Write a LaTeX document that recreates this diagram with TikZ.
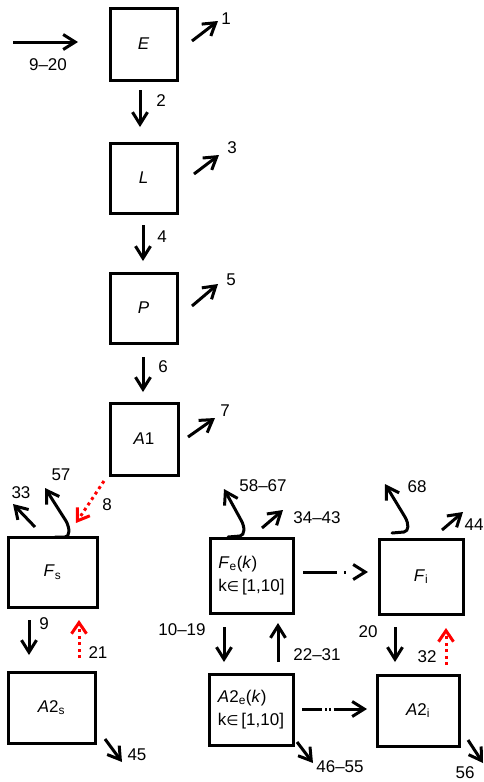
\documentclass[tikz,border=0pt]{standalone}
\usepackage{fontspec}
\setmainfont{Liberation Sans}
\newfontfamily\dejavu{DejaVu Sans}
\usetikzlibrary{arrows.meta}
\newcommand{\elemsym}{{\dejavu\fontsize{14}{14}\selectfont ∈}}
\begin{document}
\begin{tikzpicture}[x=1pt,y=-1pt,
  txt/.style={font=\fontsize{17}{23}\selectfont,inner sep=0pt},
  box/.style={draw,line width=3pt,inner sep=0pt,font=\fontsize{17}{23}\selectfont},
  flow/.style={line width=3pt,-{Straight Barb[length=12pt,width=15pt]}},
  curv/.style={line width=3pt,line cap=round,-{Straight Barb[length=12pt,width=15pt]}},
  reddot/.style={red,line width=3pt,dash pattern=on 3pt off 3.5pt,-{Straight Barb[length=11pt,width=15pt]}},
  dashdot/.style={line width=3pt,dash pattern=on 34pt off 7pt on 2pt off 40pt,-{Straight Barb[length=12pt,width=15pt]}},
  dashdotdot/.style={line width=3pt,dash pattern=on 20pt off 3pt on 1.5pt off 2.5pt on 1.5pt off 3pt on 30pt off 10pt,-{Straight Barb[length=12pt,width=15pt]}}
]
\useasboundingbox (0,0) rectangle (484,782);
% boxes
\node[box,minimum width=67pt,minimum height=72pt] (E) at (143.5,44) {\textit{E}};
\node[box,minimum width=67pt,minimum height=70pt] (L) at (143.5,178) {\textit{L}};
\node[box,minimum width=67pt,minimum height=70pt] (P) at (143.5,308) {\textit{P}};
\node[box,minimum width=68pt,minimum height=72pt] (A1) at (144,439) {\textit{A}1};
\node[box,minimum width=89pt,minimum height=70pt] (Fs) at (52.5,572) {\textit{F}\textsubscript{s}};
\node[box,minimum width=87pt,minimum height=71pt] (A2s) at (51.5,707.5) {\textit{A}2\textsubscript{s}};
\node[box,minimum width=83pt,minimum height=75pt,align=left] (Fe) at (251.5,575.5) {\textit{F}\textsubscript{e}(\textit{k})\\k\elemsym\,[1,10]};
\node[box,minimum width=84pt,minimum height=75pt] (Fi) at (421,576.5) {\textit{F}\textsubscript{i}};
\node[box,minimum width=84pt,minimum height=71pt,align=left] (A2e) at (251,709.5) {\textit{A}2\textsubscript{e}(\textit{k})\\k\elemsym\,[1,10]};
\node[box,minimum width=82pt,minimum height=71pt] (A2i) at (418,710.5) {\textit{A}2\textsubscript{i}};

% coordinates
\coordinate (in1) at (13,42);  \coordinate (in2) at (78,42);
\coordinate (a1s) at (192,41); \coordinate (a1e) at (218,21);
\coordinate (a2s) at (140,90); \coordinate (a2e) at (140,127);
\coordinate (a3s) at (194,174); \coordinate (a3e) at (219,155);
\coordinate (a4s) at (143,225); \coordinate (a4e) at (143,261);
\coordinate (a5s) at (192,306); \coordinate (a5e) at (218,284);
\coordinate (a6s) at (143,357); \coordinate (a6e) at (143,392);
\coordinate (a7s) at (188,437); \coordinate (a7e) at (215,418);
\coordinate (a8s) at (104,481); \coordinate (a8e) at (76,523);
\coordinate (a33s) at (35,527); \coordinate (a33e) at (13,504);
\coordinate (a9s) at (29,620); \coordinate (a9e) at (29,655);
\coordinate (a21s) at (79,658); \coordinate (a21e) at (79,620);
\coordinate (a45s) at (105,739); \coordinate (a45e) at (122,762);
\coordinate (a34s) at (262,528); \coordinate (a34e) at (283,510);
\coordinate (fe1) at (303,572); \coordinate (fe2) at (368,572);
\coordinate (a44s) at (442,530); \coordinate (a44e) at (463,512);
\coordinate (a10s) at (224,627); \coordinate (a10e) at (224,662);
\coordinate (a22s) at (278,662); \coordinate (a22e) at (278,623);
\coordinate (a20s) at (395,627); \coordinate (a20e) at (395,662);
\coordinate (a32s) at (446,665); \coordinate (a32e) at (446,628);
\coordinate (ae1) at (302,709); \coordinate (ae2) at (367,709);
\coordinate (a46s) at (297,742); \coordinate (a46e) at (313,763);
\coordinate (a56s) at (468,740); \coordinate (a56e) at (483,763);

% straight arrows
\draw[flow] (in1) -- (in2);
\draw[flow] (a1s) -- (a1e);
\draw[flow] (a2s) -- (a2e);
\draw[flow] (a3s) -- (a3e);
\draw[flow] (a4s) -- (a4e);
\draw[flow] (a5s) -- (a5e);
\draw[flow] (a6s) -- (a6e);
\draw[flow] (a7s) -- (a7e);
\draw[reddot] (a8s) -- (a8e);
\draw[flow] (a33s) -- (a33e);
\draw[flow] (a9s) -- (a9e);
\draw[reddot] (a21s) -- (a21e);
\draw[flow] (a45s) -- (a45e);
\draw[flow] (a34s) -- (a34e);
\draw[dashdot] (fe1) -- (fe2);
\draw[flow] (a44s) -- (a44e);
\draw[flow] (a10s) -- (a10e);
\draw[flow] (a22s) -- (a22e);
\draw[flow] (a20s) -- (a20e);
\draw[reddot] (a32s) -- (a32e);
\draw[dashdotdot] (ae1) -- (ae2);
\draw[flow] (a46s) -- (a46e);
\draw[flow] (a56s) -- (a56e);

% curved arrows
\draw[curv] (55,537) -- (65,537) .. controls (70,537) and (70,528) .. (66,521) -- (45,488);
\draw[curv] (228,537) -- (240,536) .. controls (245,535) and (245,527) .. (241,520) -- (224,489);
\draw[curv] (392,533) -- (404,532) .. controls (409,531) and (409,524) .. (405,517) -- (385,484);

% labels
\node[txt] (l920) at (48,65) {9–20};
\node[txt] (l1) at (226,19) {1};
\node[txt] (l2) at (161,101) {2};
\node[txt] (l3) at (232,148) {3};
\node[txt] (l4) at (162,237) {4};
\node[txt] (l5) at (231,280) {5};
\node[txt] (l6) at (163,367) {6};
\node[txt] (l7) at (225,411) {7};
\node[txt] (l8) at (107,505) {8};
\node[txt] (l57) at (61,475) {57};
\node[txt] (l33) at (21,493) {33};
\node[txt] (l9) at (44,624) {9};
\node[txt] (l21) at (98,653) {21};
\node[txt] (l45) at (137,755) {45};
\node[txt] (l5867) at (263,486) {58–67};
\node[txt] (l3443) at (317,518) {34–43};
\node[txt] (l68) at (417,487) {68};
\node[txt] (l44) at (474,525) {44};
\node[txt] (l1019) at (182,630) {10–19};
\node[txt] (l2231) at (317,655) {22–31};
\node[txt] (l20) at (368,632) {20};
\node[txt] (l32) at (427,657) {32};
\node[txt] (l4655) at (340,767) {46–55};
\node[txt] (l56) at (465,773) {56};
\end{tikzpicture}
\end{document}
